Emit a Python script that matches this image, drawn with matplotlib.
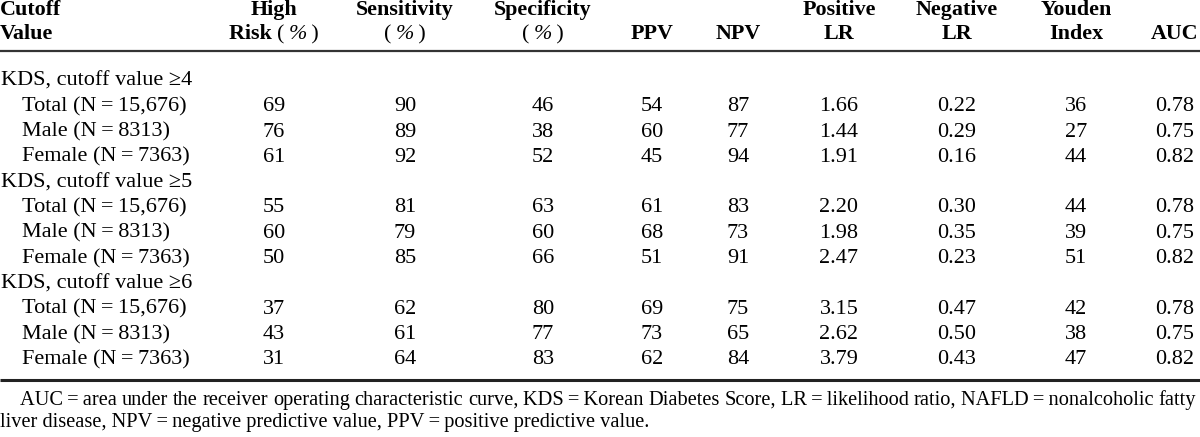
import matplotlib
matplotlib.use("Agg")
from matplotlib import pyplot as plt

# Table contents.
groups = ["KDS, cutoff value \u22654", "KDS, cutoff value \u22655", "KDS, cutoff value \u22656"]
subgroups = ["Total (N\u2009=\u200915,676)", "Male (N\u2009=\u20098313)", "Female (N\u2009=\u20097363)"]

headers = [("High", "Risk"), ("Sensitivity", ""), ("Specificity", ""), ("", "PPV"),
           ("", "NPV"), ("Positive", "LR"), ("Negative", "LR"), ("Youden", "Index"), ("", "AUC")]
pct_cols = [0, 1, 2]   # header columns whose second line ends in "(%)"

high_risk   = [69, 76, 61, 55, 60, 50, 37, 43, 31]
sensitivity = [90, 89, 92, 81, 79, 85, 62, 61, 64]
specificity = [46, 38, 52, 63, 60, 66, 80, 77, 83]
ppv         = [54, 60, 45, 61, 68, 51, 69, 73, 62]
npv         = [87, 77, 94, 83, 73, 91, 75, 65, 84]
pos_lr      = ["1.66", "1.44", "1.91", "2.20", "1.98", "2.47", "3.15", "2.62", "3.79"]
neg_lr      = ["0.22", "0.29", "0.16", "0.30", "0.35", "0.23", "0.47", "0.50", "0.43"]
youden      = [36, 27, 44, 44, 39, 51, 42, 38, 47]
auc         = ["0.78", "0.75", "0.82", "0.78", "0.75", "0.82", "0.78", "0.75", "0.82"]

footnote = ["AUC\u2009=\u2009area under the receiver operating characteristic curve, "
            "KDS\u2009=\u2009Korean Diabetes Score, LR\u2009=\u2009likelihood ratio, "
            "NAFLD\u2009=\u2009nonalcoholic fatty",
            "liver disease, NPV\u2009=\u2009negative predictive value, "
            "PPV\u2009=\u2009positive predictive value."]

columns = [high_risk, sensitivity, specificity, ppv, npv, pos_lr, neg_lr, youden, auc]

# Layout (pixels).
col_x = [274, 405, 543, 652, 738, 839, 957, 1076, 1175]
row0, row_step = 86, 25.3
font = "Liberation Serif"
fs, fs_head, fs_note = 16, 15.8, 14.7

fig = plt.figure(figsize=(12, 4.37), dpi=100)
ax = fig.add_axes([0, 0, 1, 1])
ax.set_xlim(0, 1200)
ax.set_ylim(437, 0)
ax.axis("off")
fig.canvas.draw()
renderer = fig.canvas.get_renderer()
to_data = ax.transData.inverted()


def width_of(artist):
    bb = artist.get_window_extent(renderer)
    (x0, _), (x1, _) = to_data.transform([(bb.x0, 0), (bb.x1, 0)])
    return x1 - x0


def centered_parts(x, y, parts):
    # parts: list of (text, kwargs); placed side by side, centred on x.
    arts = [ax.text(0, y, t, ha="left", va="baseline", family=font, **kw) for t, kw in parts]
    ws = [width_of(a) for a in arts]
    cur = x - sum(ws) / 2
    for a, w in zip(arts, ws):
        a.set_x(cur)
        cur += w


bold = dict(fontsize=fs_head, fontweight="bold")
pct = dict(fontsize=fs_head, fontweight="normal", style="italic")
plain = dict(fontsize=fs_head, fontweight="normal")

# Header.
ax.text(0, 15, "Cutoff", ha="left", va="baseline", family=font, **bold)
ax.text(0, 39, "Value", ha="left", va="baseline", family=font, **bold)
for c, (x, (top, bottom)) in enumerate(zip(col_x, headers)):
    if top:
        ax.text(x, 15, top, ha="center", va="baseline", family=font, **bold)
    if c in pct_cols:
        parts = []
        if bottom:
            parts.append((bottom + " ", bold))
        parts += [("(\u2009", plain), ("%", pct), ("\u2009)", plain)]
        centered_parts(x, 39, parts)
    else:
        ax.text(x, 39, bottom, ha="center", va="baseline", family=font, **bold)

ax.plot([0, 1200], [51, 51], color="#333333", lw=1.6, solid_capstyle="butt")
ax.plot([0, 1200], [380, 380], color="#222222", lw=2.2, solid_capstyle="butt")

# Body.
r = 0
for g, group in enumerate(groups):
    y = row0 + r * row_step
    ax.text(1, y, group, ha="left", va="baseline", fontsize=fs, family=font)
    r += 1
    for s, sub in enumerate(subgroups):
        y = row0 + r * row_step
        ax.text(22, y, sub, ha="left", va="baseline", fontsize=fs, family=font)
        i = g * 3 + s
        for x, col in zip(col_x, columns):
            ax.text(x, y, str(col[i]), ha="center", va="baseline", fontsize=fs, family=font)
        r += 1

# Footnote: first line justified between x=20 and x=1196.
words = footnote[0].split(" ")
arts = [ax.text(0, 405, w, ha="left", va="baseline", fontsize=fs_note, family=font)
        for w in words]
widths = [width_of(a) for a in arts]
gap = (1196 - 20 - sum(widths)) / (len(words) - 1)
x = 20
for a, w in zip(arts, widths):
    a.set_x(x)
    x += w + gap
ax.text(0, 427, footnote[1], ha="left", va="baseline", fontsize=fs_note, family=font)

fig.savefig("out.png", dpi=100)
